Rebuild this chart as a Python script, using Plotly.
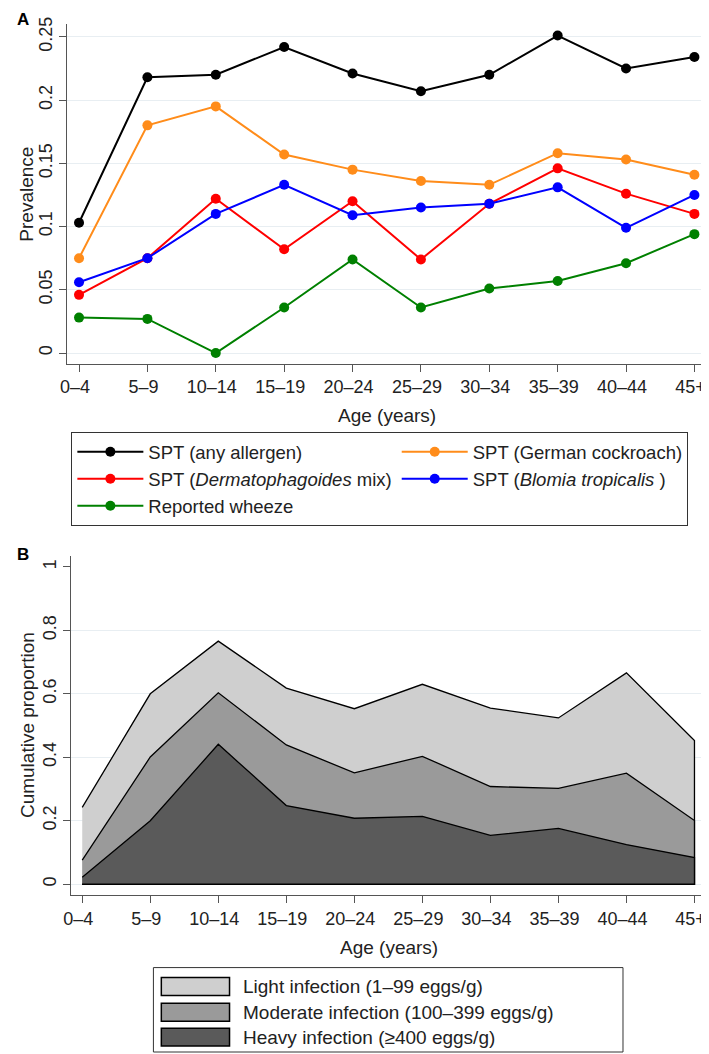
import plotly.graph_objects as go

# ---- data ----
ages = ['0–4', '5–9', '10–14', '15–19', '20–24', '25–29', '30–34', '35–39', '40–44', '45+']

spt_any = [0.103, 0.218, 0.220, 0.242, 0.221, 0.207, 0.220, 0.251, 0.225, 0.234]
spt_cockroach = [0.075, 0.180, 0.195, 0.157, 0.145, 0.136, 0.133, 0.158, 0.153, 0.141]
spt_dermato = [0.046, 0.075, 0.122, 0.082, 0.120, 0.074, 0.118, 0.146, 0.126, 0.110]
spt_blomia = [0.056, 0.075, 0.110, 0.133, 0.109, 0.115, 0.118, 0.131, 0.099, 0.125]
wheeze = [0.028, 0.027, 0.000, 0.036, 0.074, 0.036, 0.051, 0.057, 0.071, 0.094]

# cumulative proportions (panel B)
light_cum = [0.242, 0.600, 0.766, 0.618, 0.553, 0.630, 0.555, 0.524, 0.666, 0.453]
moderate_cum = [0.076, 0.401, 0.603, 0.439, 0.351, 0.403, 0.308, 0.302, 0.350, 0.201]
heavy_cum = [0.022, 0.200, 0.441, 0.248, 0.208, 0.214, 0.154, 0.176, 0.125, 0.084]

prev_ticks = [0, 0.05, 0.1, 0.15, 0.2, 0.25]
prev_labels = ['0', '0.05', '0.1', '0.15', '0.2', '0.25']
cum_ticks = [0, 0.2, 0.4, 0.6, 0.8, 1]
cum_labels = ['0', '0.2', '0.4', '0.6', '0.8', '1']

# page body adds an 8px margin, so the figure is 8px smaller than the window
OFF = 8
W, H = 709 - OFF, 1054 - OFF
FONT = 'Liberation Sans, Arial, sans-serif'
AXIS = '#555555'
GRID = '#e8eef2'


def px(x):
    # window pixel -> paper fraction
    return (x - OFF) / W


def py(y):
    return 1 - (y - OFF) / H


fig = go.Figure()

# ---- panel A ----
series = [
    ('SPT (any allergen)', spt_any, 'black'),
    ('SPT (German cockroach)', spt_cockroach, '#ff8c1a'),
    ('SPT (<i>Dermatophagoides</i> mix)', spt_dermato, '#ff0000'),
    ('SPT (<i>Blomia tropicalis </i>)', spt_blomia, '#0000ff'),
    ('Reported wheeze', wheeze, '#008000'),
]
for name, vals, col in series:
    fig.add_trace(go.Scatter(x=ages, y=vals, name=name, mode='lines+markers',
                             line=dict(color=col, width=2),
                             marker=dict(color=col, size=10),
                             xaxis='x', yaxis='y', legend='legend'))

# ---- panel B ----
areas = [
    ('Light infection (1–99 eggs/g)', light_cum, '#cfcfcf'),
    ('Moderate infection (100–399 eggs/g)', moderate_cum, '#9a9a9a'),
    ('Heavy infection (≥400 eggs/g)', heavy_cum, '#5a5a5a'),
]
for name, vals, col in areas:
    fig.add_trace(go.Scatter(x=ages + ages[::-1], y=vals + [0] * len(vals),
                             name=name, mode='lines', fill='toself',
                             fillcolor=col, line=dict(color='black', width=1.3),
                             showlegend=False, xaxis='x2', yaxis='y2'))

axis_common = dict(showline=True, linecolor=AXIS, linewidth=1, ticks='outside',
                   ticklen=7, tickcolor=AXIS, tickfont=dict(size=18, color='#222'),
                   zeroline=False, mirror=False)

fig.update_layout(
    width=W, height=H,
    margin=dict(l=0, r=0, t=0, b=0),
    paper_bgcolor='white', plot_bgcolor='white',
    font=dict(family=FONT, size=18, color='#222'),
    xaxis=dict(domain=[px(60), px(706)], type='category', range=[-0.17, 9.17],
               showgrid=False, anchor='y', ticklabelshift=-4, **axis_common),
    yaxis=dict(domain=[py(359), py(17)], range=[-0.0084, 0.2602], anchor='x',
               tickvals=prev_ticks, ticktext=prev_labels, tickangle=-90,
               showgrid=True, gridcolor=GRID, gridwidth=1, **axis_common),
    xaxis2=dict(domain=[px(64), px(706)], type='category', range=[-0.16, 9.17],
                showgrid=False, anchor='y2', ticklabelshift=-4, **axis_common),
    yaxis2=dict(domain=[py(894), py(553)], range=[-0.034, 1.033], anchor='x2',
                tickvals=cum_ticks, ticktext=cum_labels, tickangle=-90,
                showgrid=False,
                minor=dict(tickvals=cum_ticks[:-1], showgrid=True, gridcolor=GRID,
                           gridwidth=1, ticks=''),
                **axis_common),
    legend=dict(orientation='h', x=px(64), xanchor='left', y=py(428), yanchor='top',
                bordercolor='#333', borderwidth=1, bgcolor='white',
                font=dict(size=18.5, color='#222'), itemwidth=66,
                traceorder='normal'),
)

# axis titles
titles = [
    ('Age (years)', 383, 411, 0),
    ('Prevalence', 19, 188, -90),
    ('Age (years)', 385, 947, 0),
    ('Cumulative proportion', 19, 723, -90),
]
for text, xx, yy, ang in titles:
    fig.add_annotation(text=text, x=px(xx), y=py(yy), xref='paper', yref='paper',
                       xanchor='center', yanchor='middle', textangle=ang,
                       showarrow=False, font=dict(size=19, color='#222'))

# panel letters
for letter, xx, yy in [('A', 15, 13), ('B', 15, 551)]:
    fig.add_annotation(text='<b>%s</b>' % letter, x=px(xx), y=py(yy), xref='paper', yref='paper',
                       xanchor='center', yanchor='middle',
                       showarrow=False, font=dict(size=17, color='black'))

# ---- legend for panel B (drawn as keys in figure space) ----
fig.add_shape(type='rect', xref='paper', yref='paper',
              x0=px(147), x1=px(622), y0=py(1052), y1=py(967),
              line=dict(color='#333', width=1), fillcolor='white')
row_y = [986, 1012, 1037]
for (name, vals, col), ry in zip(areas, row_y):
    fig.add_shape(type='rect', xref='paper', yref='paper',
                  x0=px(155), x1=px(224), y0=py(ry + 9), y1=py(ry - 9),
                  line=dict(color='black', width=1.5), fillcolor=col)
    fig.add_annotation(text=name, x=px(236), y=py(ry), xref='paper', yref='paper',
                       xanchor='left', yanchor='middle', showarrow=False,
                       font=dict(size=19, color='#222'))

fig.write_html('out.html')
